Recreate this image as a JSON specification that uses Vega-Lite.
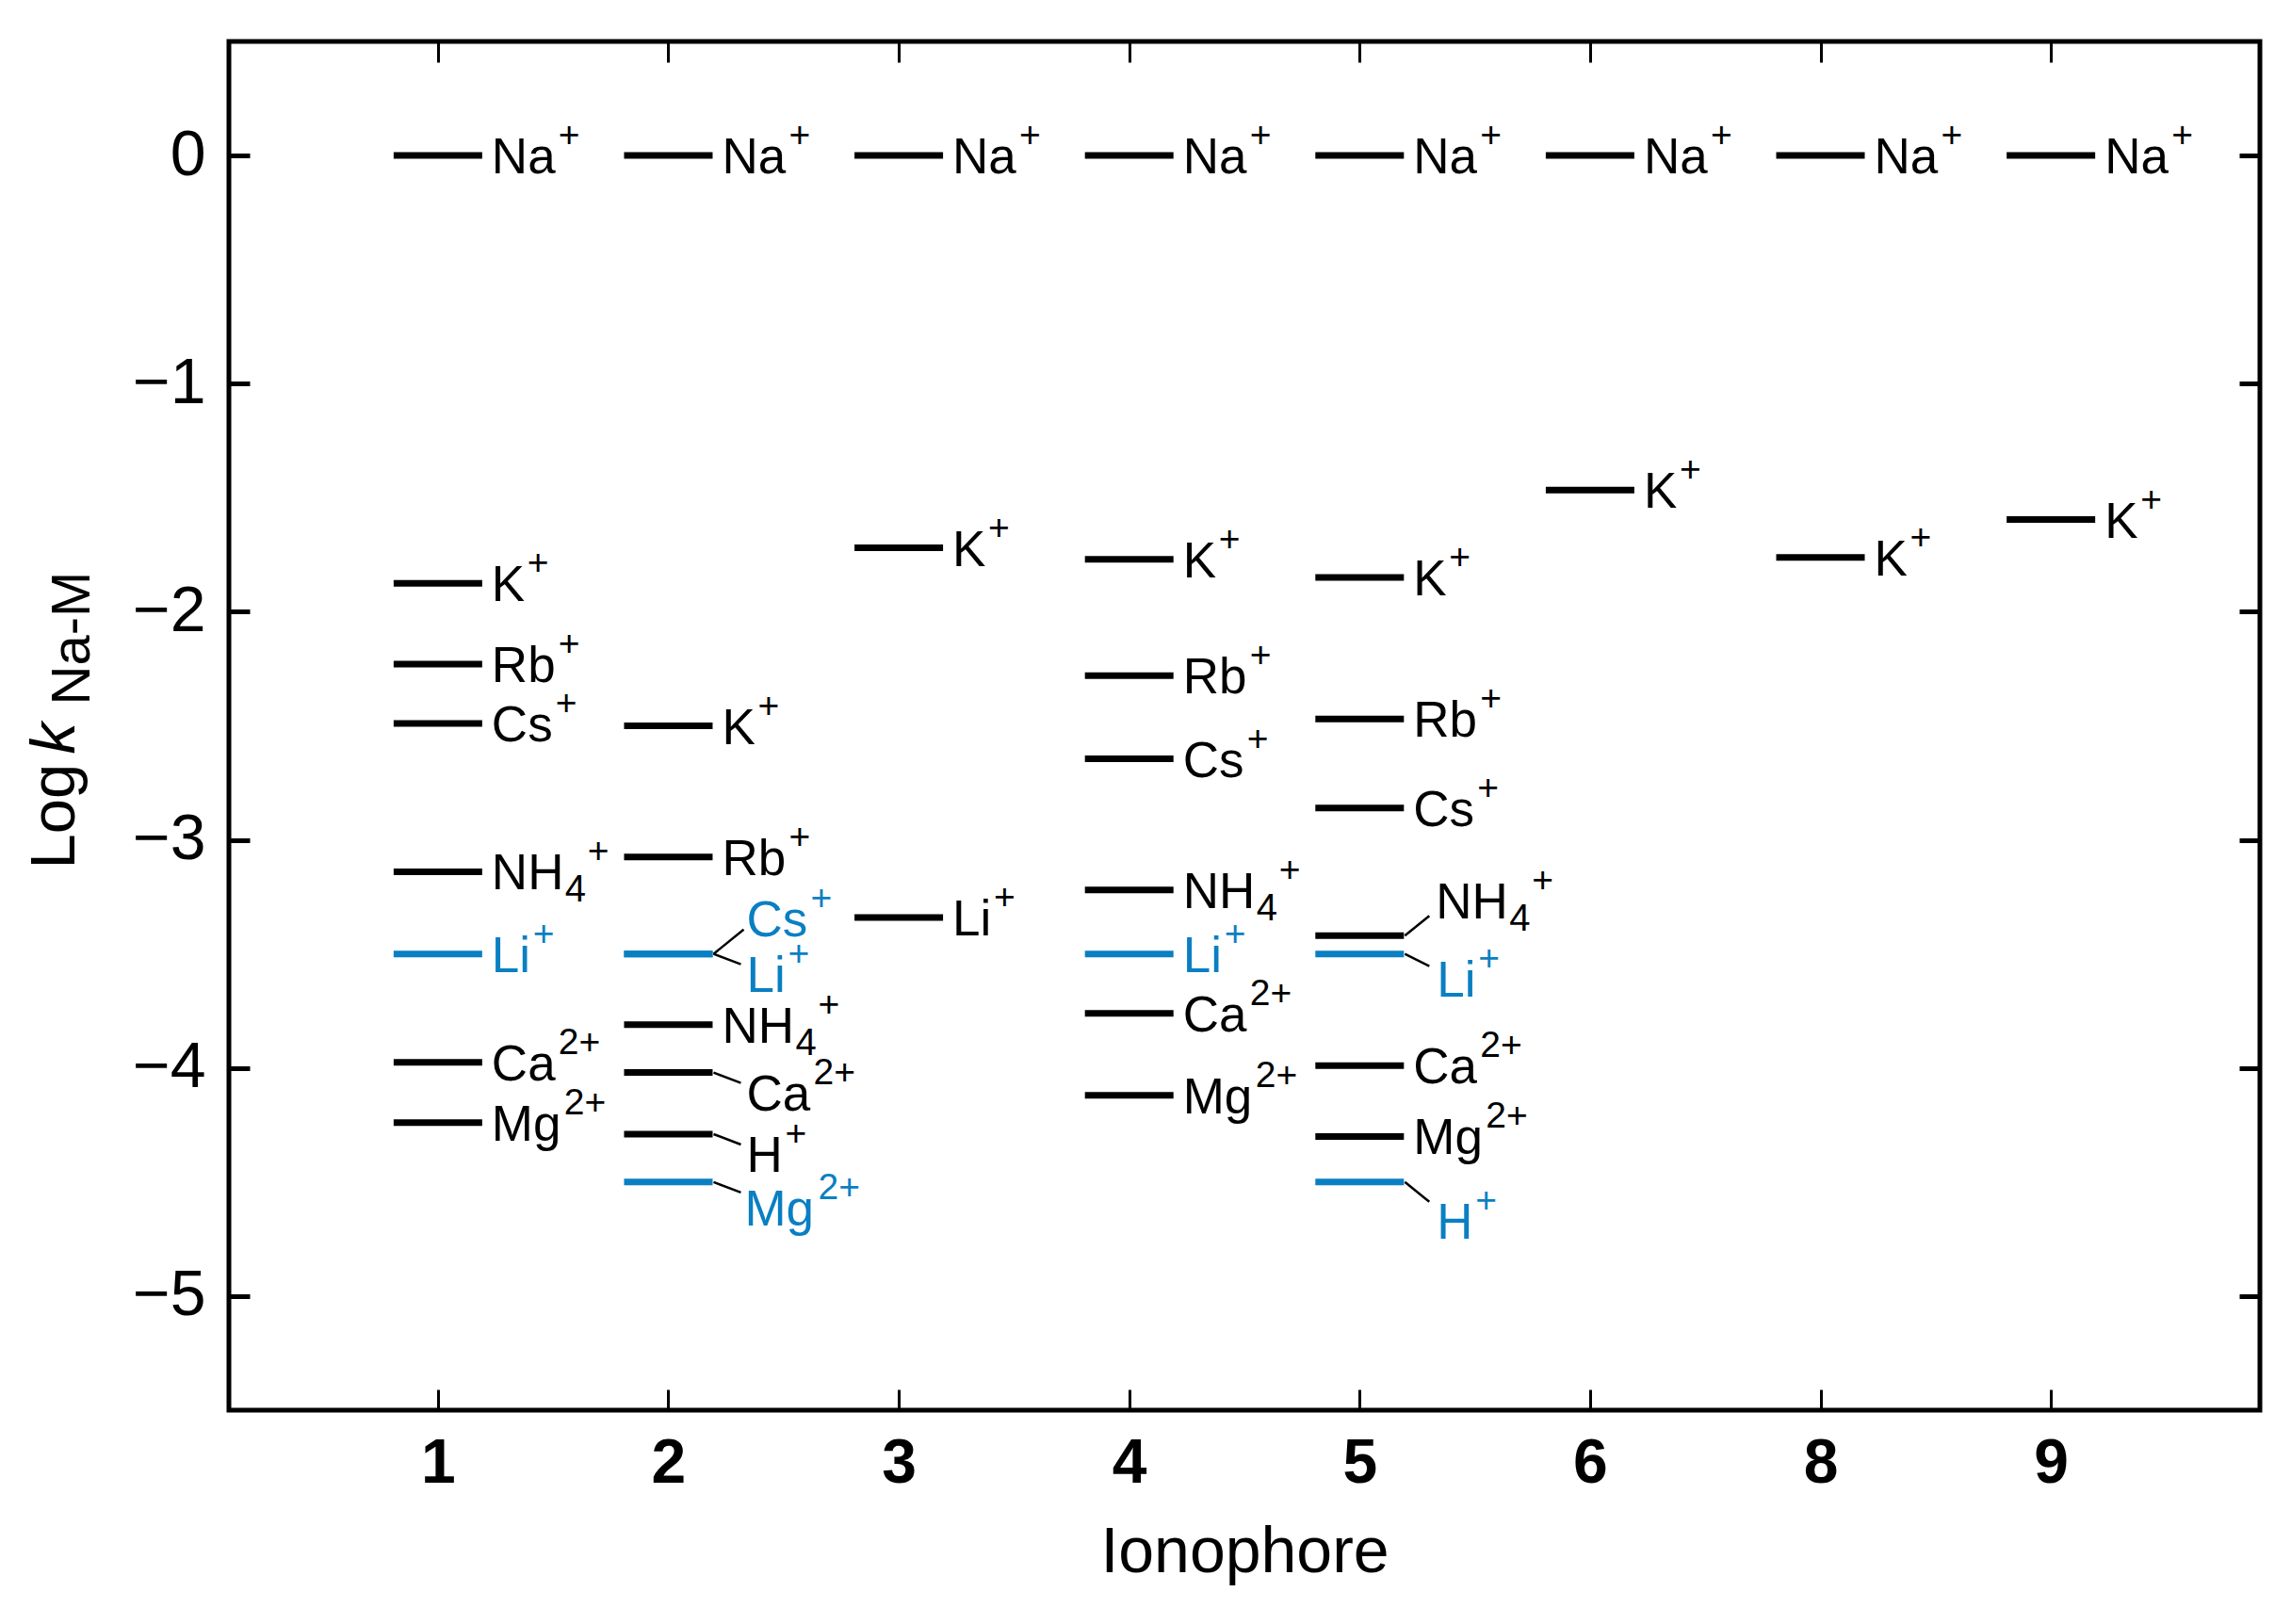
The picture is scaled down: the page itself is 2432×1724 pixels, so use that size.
{
  "$schema": "https://vega.github.io/schema/vega-lite/v6.json",
  "width": 2156,
  "height": 1453,
  "autosize": "none",
  "padding": {"left": 243, "top": 44, "right": 33, "bottom": 227},
  "background": "white",
  "config": {
    "font": "Liberation Sans",
    "view": {"stroke": "black", "strokeWidth": 5},
    "text": {"font": "Liberation Sans"},
    "axis": {"grid": false, "domain": false, "tickColor": "black", "labelColor": "black", "titleColor": "black", "labelFont": "Liberation Sans", "titleFont": "Liberation Sans"}
  },
  "data": {
    "values": [
      {"ionophore": "1", "ion": "Na", "base": "Na", "charge": "+", "logk": 0, "highlight": "no"},
      {"ionophore": "1", "ion": "K", "base": "K", "charge": "+", "logk": -1.875, "highlight": "no"},
      {"ionophore": "1", "ion": "Rb", "base": "Rb", "charge": "+", "logk": -2.23, "highlight": "no"},
      {"ionophore": "1", "ion": "Cs", "base": "Cs", "charge": "+", "logk": -2.49, "highlight": "no"},
      {"ionophore": "1", "ion": "NH4", "base": "NH", "charge": "+", "logk": -3.14, "highlight": "no"},
      {"ionophore": "1", "ion": "Li", "base": "Li", "charge": "+", "logk": -3.5, "highlight": "yes"},
      {"ionophore": "1", "ion": "Ca", "base": "Ca", "charge": "2+", "logk": -3.975, "highlight": "no"},
      {"ionophore": "1", "ion": "Mg", "base": "Mg", "charge": "2+", "logk": -4.24, "highlight": "no"},
      {"ionophore": "2", "ion": "Na", "base": "Na", "charge": "+", "logk": 0, "highlight": "no"},
      {"ionophore": "2", "ion": "K", "base": "K", "charge": "+", "logk": -2.5, "highlight": "no"},
      {"ionophore": "2", "ion": "Rb", "base": "Rb", "charge": "+", "logk": -3.075, "highlight": "no"},
      {"ionophore": "2", "ion": "Cs", "base": "Cs", "charge": "+", "logk": -3.5, "highlight": "yes"},
      {"ionophore": "2", "ion": "Li", "base": "Li", "charge": "+", "logk": -3.5, "highlight": "yes"},
      {"ionophore": "2", "ion": "NH4", "base": "NH", "charge": "+", "logk": -3.81, "highlight": "no"},
      {"ionophore": "2", "ion": "Ca", "base": "Ca", "charge": "2+", "logk": -4.02, "highlight": "no"},
      {"ionophore": "2", "ion": "H", "base": "H", "charge": "+", "logk": -4.29, "highlight": "no"},
      {"ionophore": "2", "ion": "Mg", "base": "Mg", "charge": "2+", "logk": -4.5, "highlight": "yes"},
      {"ionophore": "3", "ion": "Na", "base": "Na", "charge": "+", "logk": 0, "highlight": "no"},
      {"ionophore": "3", "ion": "K", "base": "K", "charge": "+", "logk": -1.72, "highlight": "no"},
      {"ionophore": "3", "ion": "Li", "base": "Li", "charge": "+", "logk": -3.34, "highlight": "no"},
      {"ionophore": "4", "ion": "Na", "base": "Na", "charge": "+", "logk": 0, "highlight": "no"},
      {"ionophore": "4", "ion": "K", "base": "K", "charge": "+", "logk": -1.77, "highlight": "no"},
      {"ionophore": "4", "ion": "Rb", "base": "Rb", "charge": "+", "logk": -2.28, "highlight": "no"},
      {"ionophore": "4", "ion": "Cs", "base": "Cs", "charge": "+", "logk": -2.645, "highlight": "no"},
      {"ionophore": "4", "ion": "NH4", "base": "NH", "charge": "+", "logk": -3.22, "highlight": "no"},
      {"ionophore": "4", "ion": "Li", "base": "Li", "charge": "+", "logk": -3.5, "highlight": "yes"},
      {"ionophore": "4", "ion": "Ca", "base": "Ca", "charge": "2+", "logk": -3.76, "highlight": "no"},
      {"ionophore": "4", "ion": "Mg", "base": "Mg", "charge": "2+", "logk": -4.12, "highlight": "no"},
      {"ionophore": "5", "ion": "Na", "base": "Na", "charge": "+", "logk": 0, "highlight": "no"},
      {"ionophore": "5", "ion": "K", "base": "K", "charge": "+", "logk": -1.85, "highlight": "no"},
      {"ionophore": "5", "ion": "Rb", "base": "Rb", "charge": "+", "logk": -2.47, "highlight": "no"},
      {"ionophore": "5", "ion": "Cs", "base": "Cs", "charge": "+", "logk": -2.86, "highlight": "no"},
      {"ionophore": "5", "ion": "NH4", "base": "NH", "charge": "+", "logk": -3.42, "highlight": "no"},
      {"ionophore": "5", "ion": "Li", "base": "Li", "charge": "+", "logk": -3.5, "highlight": "yes"},
      {"ionophore": "5", "ion": "Ca", "base": "Ca", "charge": "2+", "logk": -3.99, "highlight": "no"},
      {"ionophore": "5", "ion": "Mg", "base": "Mg", "charge": "2+", "logk": -4.3, "highlight": "no"},
      {"ionophore": "5", "ion": "H", "base": "H", "charge": "+", "logk": -4.5, "highlight": "yes"},
      {"ionophore": "6", "ion": "Na", "base": "Na", "charge": "+", "logk": 0, "highlight": "no"},
      {"ionophore": "6", "ion": "K", "base": "K", "charge": "+", "logk": -1.467, "highlight": "no"},
      {"ionophore": "8", "ion": "Na", "base": "Na", "charge": "+", "logk": 0, "highlight": "no"},
      {"ionophore": "8", "ion": "K", "base": "K", "charge": "+", "logk": -1.762, "highlight": "no"},
      {"ionophore": "9", "ion": "Na", "base": "Na", "charge": "+", "logk": 0, "highlight": "no"},
      {"ionophore": "9", "ion": "K", "base": "K", "charge": "+", "logk": -1.596, "highlight": "no"}
    ]
  },
  "encoding": {
    "x": {"field": "ionophore", "type": "ordinal", "scale": {"type": "point", "domain": ["1","2","3","4","5","6","8","9"], "padding": 0.907}, "axis": null},
    "y": {"field": "logk", "type": "quantitative", "scale": {"domain": [-5.5, 0.5], "nice": false, "zero": false}, "axis": null},
    "color": {"field": "highlight", "type": "nominal", "scale": {"domain": ["no","yes"], "range": ["#000000", "#0a7fc2"]}, "legend": null}
  },
  "layer": [
    {
      "mark": {"type": "tick", "size": 94, "thickness": 7, "opacity": 1, "orient": "horizontal"},
      "encoding": {
        "x": {"field": "ionophore", "type": "ordinal",
              "scale": {"type": "point", "domain": ["1","2","3","4","5","6","8","9"], "padding": 0.907},
              "axis": {"orient": "bottom", "title": "Ionophore", "labelAngle": 0, "labelFontSize": 66, "labelFontWeight": "bold", "labelPadding": 46, "tickSize": -22, "tickWidth": 3, "titleFontSize": 68, "titleFontWeight": "normal", "titlePadding": 28}},
        "y": {"field": "logk", "type": "quantitative",
              "scale": {"domain": [-5.5, 0.5], "nice": false, "zero": false},
              "axis": {"orient": "left", "values": [-5,-4,-3,-2,-1,0], "title": "Log", "labelFontSize": 68, "labelPadding": 47, "tickSize": -22, "tickWidth": 5, "titleFontSize": 67, "titleFontWeight": "normal", "titleAngle": -90, "titleAlign": "left", "titleBaseline": "alphabetic", "titleX": -165, "titleY": 878}}
      }
    },
    {
      "transform": [{"filter": "!((datum.ionophore == '2' && indexof(['Cs','Li','Ca','H','Mg'], datum.base) >= 0) || (datum.ionophore == '5' && indexof(['NH','Li','H'], datum.base) >= 0))"}],
      "mark": {"type": "text", "align": "left", "baseline": "alphabetic", "dx": 57, "dy": 19, "fontSize": 53},
      "encoding": {
        "x": {"field": "ionophore", "type": "ordinal", "axis": {"orient": "top", "labels": false, "title": null, "tickSize": -22, "tickWidth": 3}},
        "y": {"field": "logk", "type": "quantitative", "axis": {"orient": "right", "labels": false, "title": null, "values": [-5,-4,-3,-2,-1,0], "tickSize": -22, "tickWidth": 5}},
        "text": {"field": "base"}
      }
    },
    {
      "transform": [{"filter": "!(datum.ionophore == '2' || (datum.ionophore == '5' && indexof(['NH','Li','H'], datum.base) >= 0)) && indexof(['Na','Rb','Ca'], datum.base) >= 0"}],
      "mark": {"type": "text", "align": "left", "baseline": "alphabetic", "dx": 128, "dy": -9, "fontSize": 39},
      "encoding": {
        "y": {"field": "logk", "type": "quantitative", "axis": {"orient": "left", "labels": false, "ticks": false, "domain": false, "title": "k", "titleFontSize": 67, "titleFontStyle": "italic", "titleFontWeight": "normal", "titleAngle": -90, "titleAlign": "left", "titleBaseline": "alphabetic", "titleX": -165, "titleY": 756}},
        "text": {"field": "charge"}
      }
    },
    {
      "transform": [{"filter": "datum.ionophore == '2' && indexof(['Na','Rb'], datum.base) >= 0"}],
      "mark": {"type": "text", "align": "left", "baseline": "alphabetic", "dx": 128, "dy": -9, "fontSize": 39},
      "encoding": {
        "y": {"field": "logk", "type": "quantitative", "axis": {"orient": "left", "labels": false, "ticks": false, "domain": false, "title": "Na-M", "titleFontSize": 58, "titleFontWeight": "normal", "titleAngle": -90, "titleAlign": "left", "titleBaseline": "alphabetic", "titleX": -149, "titleY": 704}},
        "text": {"field": "charge"}
      }
    },
    {
      "transform": [{"filter": "datum.ionophore != '2' && datum.base == 'Cs'"}],
      "mark": {"type": "text", "align": "left", "baseline": "alphabetic", "dx": 125, "dy": -9, "fontSize": 39},
      "encoding": {"text": {"field": "charge"}}
    },
    {
      "transform": [{"filter": "datum.base == 'K'"}],
      "mark": {"type": "text", "align": "left", "baseline": "alphabetic", "dx": 95, "dy": -9, "fontSize": 39},
      "encoding": {"text": {"field": "charge"}}
    },
    {
      "transform": [{"filter": "datum.base == 'Li' && datum.ionophore != '2' && datum.ionophore != '5'"}],
      "mark": {"type": "text", "align": "left", "baseline": "alphabetic", "dx": 101, "dy": -9, "fontSize": 39},
      "encoding": {"text": {"field": "charge"}}
    },
    {
      "transform": [{"filter": "datum.base == 'Mg' && datum.ionophore != '2'"}],
      "mark": {"type": "text", "align": "left", "baseline": "alphabetic", "dx": 134, "dy": -9, "fontSize": 39},
      "encoding": {"text": {"field": "charge"}}
    },
    {
      "transform": [{"filter": "datum.base == 'NH' && datum.ionophore != '5'"}],
      "mark": {"type": "text", "align": "left", "baseline": "alphabetic", "dx": 159, "dy": -9, "fontSize": 39},
      "encoding": {"text": {"field": "charge"}}
    },
    {
      "transform": [{"filter": "datum.base == 'NH' && datum.ionophore != '5'"}],
      "mark": {"type": "text", "align": "left", "baseline": "alphabetic", "dx": 135, "dy": 32, "fontSize": 40},
      "encoding": {"text": {"value": "4"}}
    },
    {
      "transform": [{"filter": "datum.ionophore == '2' && indexof(['Li','Ca','H'], datum.base) >= 0"}],
      "mark": {"type": "text", "align": "left", "baseline": "alphabetic", "dx": 83, "dy": 40, "fontSize": 53},
      "encoding": {"text": {"field": "base"}}
    },
    {
      "transform": [{"filter": "datum.ionophore == '2' && datum.base == 'Li'"}],
      "mark": {"type": "text", "align": "left", "baseline": "alphabetic", "dx": 127, "dy": 12, "fontSize": 39},
      "encoding": {"text": {"field": "charge"}}
    },
    {
      "transform": [{"filter": "datum.ionophore == '2' && datum.base == 'Ca'"}],
      "mark": {"type": "text", "align": "left", "baseline": "alphabetic", "dx": 154, "dy": 12, "fontSize": 39},
      "encoding": {"text": {"field": "charge"}}
    },
    {
      "transform": [{"filter": "datum.ionophore == '2' && datum.base == 'H'"}],
      "mark": {"type": "text", "align": "left", "baseline": "alphabetic", "dx": 124, "dy": 12, "fontSize": 39},
      "encoding": {"text": {"field": "charge"}}
    },
    {
      "transform": [{"filter": "datum.ionophore == '2' && datum.base == 'Cs'"}],
      "mark": {"type": "text", "align": "left", "baseline": "alphabetic", "dx": 83, "dy": -19, "fontSize": 53},
      "encoding": {"text": {"field": "base"}}
    },
    {
      "transform": [{"filter": "datum.ionophore == '2' && datum.base == 'Cs'"}],
      "mark": {"type": "text", "align": "left", "baseline": "alphabetic", "dx": 151, "dy": -47, "fontSize": 39},
      "encoding": {"text": {"field": "charge"}}
    },
    {
      "transform": [{"filter": "datum.ionophore == '2' && datum.base == 'Mg'"}],
      "mark": {"type": "text", "align": "left", "baseline": "alphabetic", "dx": 81, "dy": 46, "fontSize": 53},
      "encoding": {"text": {"field": "base"}}
    },
    {
      "transform": [{"filter": "datum.ionophore == '2' && datum.base == 'Mg'"}],
      "mark": {"type": "text", "align": "left", "baseline": "alphabetic", "dx": 159, "dy": 18, "fontSize": 39},
      "encoding": {"text": {"field": "charge"}}
    },
    {
      "transform": [{"filter": "datum.ionophore == '5' && datum.base == 'NH'"}],
      "mark": {"type": "text", "align": "left", "baseline": "alphabetic", "dx": 81, "dy": -18, "fontSize": 53},
      "encoding": {"text": {"field": "base"}}
    },
    {
      "transform": [{"filter": "datum.ionophore == '5' && datum.base == 'NH'"}],
      "mark": {"type": "text", "align": "left", "baseline": "alphabetic", "dx": 159, "dy": -5, "fontSize": 40},
      "encoding": {"text": {"value": "4"}}
    },
    {
      "transform": [{"filter": "datum.ionophore == '5' && datum.base == 'NH'"}],
      "mark": {"type": "text", "align": "left", "baseline": "alphabetic", "dx": 183, "dy": -46, "fontSize": 39},
      "encoding": {"text": {"field": "charge"}}
    },
    {
      "transform": [{"filter": "datum.ionophore == '5' && datum.base == 'Li'"}],
      "mark": {"type": "text", "align": "left", "baseline": "alphabetic", "dx": 82, "dy": 45, "fontSize": 53},
      "encoding": {"text": {"field": "base"}}
    },
    {
      "transform": [{"filter": "datum.ionophore == '5' && datum.base == 'Li'"}],
      "mark": {"type": "text", "align": "left", "baseline": "alphabetic", "dx": 126, "dy": 17, "fontSize": 39},
      "encoding": {"text": {"field": "charge"}}
    },
    {
      "transform": [{"filter": "datum.ionophore == '5' && datum.base == 'H'"}],
      "mark": {"type": "text", "align": "left", "baseline": "alphabetic", "dx": 82, "dy": 60, "fontSize": 53},
      "encoding": {"text": {"field": "base"}}
    },
    {
      "transform": [{"filter": "datum.ionophore == '5' && datum.base == 'H'"}],
      "mark": {"type": "text", "align": "left", "baseline": "alphabetic", "dx": 123, "dy": 32, "fontSize": 39},
      "encoding": {"text": {"field": "charge"}}
    },
    {
      "transform": [{"filter": "datum.ionophore == '2' && indexof(['Li','Ca','H','Mg'], datum.base) >= 0"}],
      "mark": {"type": "rule", "strokeWidth": 2.5, "xOffset": 48, "x2Offset": 77, "yOffset": 0, "y2Offset": 11},
      "encoding": {"x2": {"field": "ionophore"}, "y2": {"field": "logk"}, "color": {"value": "black"}}
    },
    {
      "transform": [{"filter": "datum.ionophore == '2' && datum.base == 'Cs'"}],
      "mark": {"type": "rule", "strokeWidth": 2.5, "xOffset": 48, "x2Offset": 80, "yOffset": 0, "y2Offset": -26},
      "encoding": {"x2": {"field": "ionophore"}, "y2": {"field": "logk"}, "color": {"value": "black"}}
    },
    {
      "transform": [{"filter": "datum.ionophore == '5' && datum.base == 'NH'"}],
      "mark": {"type": "rule", "strokeWidth": 2.5, "xOffset": 48, "x2Offset": 74, "yOffset": 0, "y2Offset": -21},
      "encoding": {"x2": {"field": "ionophore"}, "y2": {"field": "logk"}, "color": {"value": "black"}}
    },
    {
      "transform": [{"filter": "datum.ionophore == '5' && datum.base == 'Li'"}],
      "mark": {"type": "rule", "strokeWidth": 2.5, "xOffset": 48, "x2Offset": 74, "yOffset": 0, "y2Offset": 13},
      "encoding": {"x2": {"field": "ionophore"}, "y2": {"field": "logk"}, "color": {"value": "black"}}
    },
    {
      "transform": [{"filter": "datum.ionophore == '5' && datum.base == 'H'"}],
      "mark": {"type": "rule", "strokeWidth": 2.5, "xOffset": 48, "x2Offset": 74, "yOffset": 0, "y2Offset": 21},
      "encoding": {"x2": {"field": "ionophore"}, "y2": {"field": "logk"}, "color": {"value": "black"}}
    }
  ],
  "resolve": {"axis": {"x": "independent", "y": "independent"}}
}
